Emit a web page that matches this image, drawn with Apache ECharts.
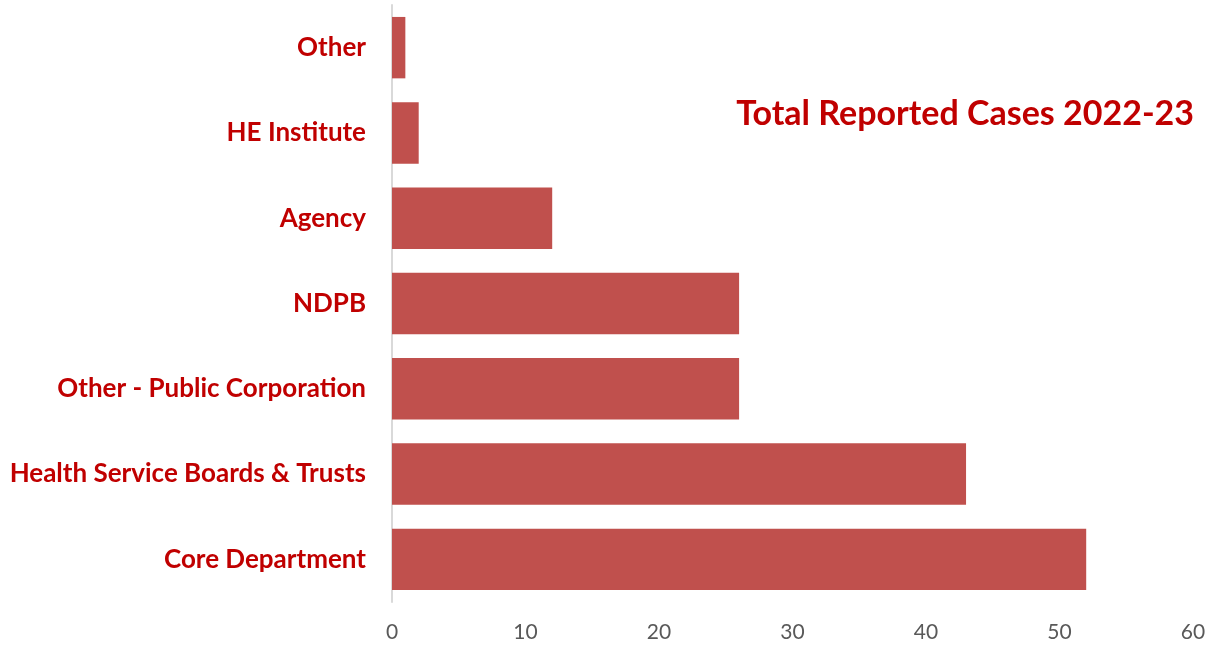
<!DOCTYPE html>
<html><head><meta charset="utf-8">
<script src="https://cdn.jsdelivr.net/npm/echarts@6/dist/echarts.min.js"></script>
<style>html,body{margin:0;padding:0;background:#fff}#c{width:1217px;height:646px}</style>
</head><body><div id="c"></div>
<script>
const categories = ['Core Department','Health Service Boards & Trusts','Other - Public Corporation','NDPB','Agency','HE Institute','Other'];
const values = [52, 43, 26, 26, 12, 2, 1];
const titleText = 'Total Reported Cases 2022-23';
const chart = echarts.init(document.getElementById('c'));
chart.setOption({
  animation: false,
  title: {text: titleText, right: 18, top: 92, textStyle: {color: '#C00000', fontSize: 34, fontWeight: 'bold', fontFamily: 'Lato'}},
  grid: {left: 392, right: 24, top: 5, bottom: 44},
  xAxis: {type: 'value', min: 0, max: 60, interval: 10,
    axisLine: {show: false}, axisTick: {show: false}, splitLine: {show: false},
    axisLabel: {color: '#595959', fontSize: 21, fontFamily: 'Lato', margin: 20}},
  yAxis: {type: 'category', data: categories,
    axisLine: {show: true, lineStyle: {color: '#D9D9D9', width: 2}}, axisTick: {show: false},
    axisLabel: {color: '#C00000', fontSize: 26, fontWeight: 'bold', fontFamily: 'Lato', margin: 26}},
  series: [{type: 'bar', data: values, barCategoryGap: '28%', itemStyle: {color: '#C0504D'}}]
});
</script></body></html>
